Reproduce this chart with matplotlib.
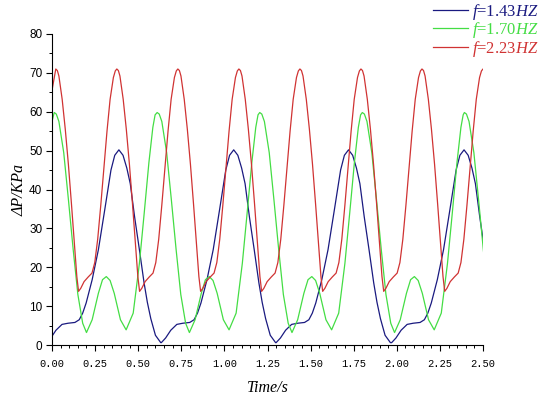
import matplotlib
matplotlib.use("Agg")
import matplotlib.pyplot as plt
from matplotlib.ticker import MultipleLocator, FormatStrFormatter

plt.rcParams['mathtext.fontset'] = 'custom'
plt.rcParams['mathtext.rm'] = 'Liberation Serif'
plt.rcParams['mathtext.it'] = 'Liberation Serif:italic'

labels = ["$f$=1.43$HZ$", "$f$=1.70$HZ$", "$f$=2.23$HZ$"]
colors = ['#1a1a80', '#44dd44', '#d03333']

# blue curve: peak times and one cycle read around a peak (trough -> peak -> trough)
blue_peaks = [0.388, 1.054, 1.720, 2.390]
blue_dt = [-0.420, -0.395, -0.365, -0.330, -0.295, -0.255, -0.230, -0.210, -0.190,
           -0.155, -0.119, -0.082, -0.046, -0.024, 0.0, 0.024, 0.046, 0.066,
           0.091, 0.119, 0.146, 0.165, 0.185, 0.212, 0.243]
blue_val = [0.6, 1.8, 3.8, 5.3, 5.6, 5.8, 6.5, 8.2, 10.8,
            16.8, 24.5, 34.8, 45.0, 48.8, 50.2, 48.8, 45.5, 41.5,
            33.0, 24.5, 16.0, 11.0, 6.8, 2.5, 0.6]

# green curve: peak times and one cycle (peak -> next peak)
green_start = 57.5
green_peaks = [0.013, 0.610, 1.205, 1.800, 2.392]
green_dt = [0.0, 0.012, 0.027, 0.055, 0.082, 0.110, 0.137, 0.165, 0.187, 0.220,
            0.256, 0.280, 0.302, 0.324, 0.348, 0.384, 0.417, 0.458, 0.494,
            0.522, 0.549, 0.572, 0.585]
green_val = [59.8, 59.4, 57.5, 49.5, 37.5, 24.5, 13.0, 5.6, 3.2, 6.5,
             13.3, 16.8, 17.6, 16.6, 13.3, 6.5, 3.9, 8.2, 21.0,
             34.0, 46.9, 56.0, 59.2]

# red curve: peak times and one cycle (peak -> next peak)
red_start = 65.5
red_peaks = [0.022, 0.376, 0.730, 1.084, 1.438, 1.792, 2.146, 2.500]
red_dt = [0.0, 0.009, 0.018, 0.037, 0.055, 0.073, 0.091, 0.109, 0.122, 0.132,
          0.145, 0.164, 0.188, 0.210, 0.226, 0.243, 0.261, 0.279, 0.297,
          0.315, 0.334, 0.345]
red_val = [71.0, 70.6, 69.2, 63.2, 55.5, 46.5, 36.2, 25.2, 17.6, 13.8,
           14.6, 16.3, 17.5, 18.5, 21.2, 27.2, 36.0, 45.5, 55.0,
           63.2, 68.8, 70.5]


def build(peaks, dts, vals, start=None):
    t, v = [], []
    if start is not None:
        t.append(0.0)
        v.append(start)
    for p in peaks:
        for d, y in zip(dts, vals):
            if not t or p + d > t[-1]:
                t.append(p + d)
                v.append(y)
    return t, v


fig = plt.figure(figsize=(5.53, 3.99), dpi=100)
ax = fig.add_axes([52 / 553, 54 / 399, 431 / 553, 311 / 399])

series = [build(blue_peaks, blue_dt, blue_val),
          build(green_peaks, green_dt, green_val, green_start),
          build(red_peaks, red_dt, red_val, red_start)]

handles = []
for (t, v), c, lab in zip(series, colors, labels):
    h, = ax.plot(t, v, color=c, lw=0.9, label=lab)
    handles.append(h)

ax.set_xlim(0, 2.5)
ax.set_ylim(0, 80)
ax.xaxis.set_major_locator(MultipleLocator(0.25))
ax.xaxis.set_minor_locator(MultipleLocator(0.05))
ax.yaxis.set_major_locator(MultipleLocator(10))
ax.yaxis.set_minor_locator(MultipleLocator(5))
ax.xaxis.set_major_formatter(FormatStrFormatter('%.2f'))

for s in ['top', 'right']:
    ax.spines[s].set_visible(False)
for s in ['left', 'bottom']:
    ax.spines[s].set_linewidth(0.8)

ax.tick_params(which='major', direction='out', length=4, width=0.8, pad=3)
ax.tick_params(axis='x', which='major', pad=6)
ax.tick_params(which='minor', direction='out', length=2.5, width=0.7)
for lb in ax.get_xticklabels():
    lb.set_fontfamily('Liberation Mono')
    lb.set_fontsize(7.5)
for lb in ax.get_yticklabels():
    lb.set_fontfamily('Liberation Sans')
    lb.set_fontsize(8.5)

ax.set_xlabel('Time/s', family='Liberation Serif', style='italic', fontsize=11.5, labelpad=8)
ax.set_ylabel('ΔP/KPa', family='Liberation Serif', style='italic', fontsize=11.5, labelpad=1)

leg = fig.legend(handles, labels, loc='upper left', bbox_to_anchor=(433 / 553, 1 - 2 / 399),
                 bbox_transform=fig.transFigure, frameon=False, borderpad=0, borderaxespad=0,
                 handlelength=2.1, handletextpad=0.25, labelspacing=-0.1,
                 prop={'family': 'Liberation Serif', 'size': 12})
for txt, c in zip(leg.get_texts(), colors):
    txt.set_color(c)

fig.savefig('out.png', dpi=100)
